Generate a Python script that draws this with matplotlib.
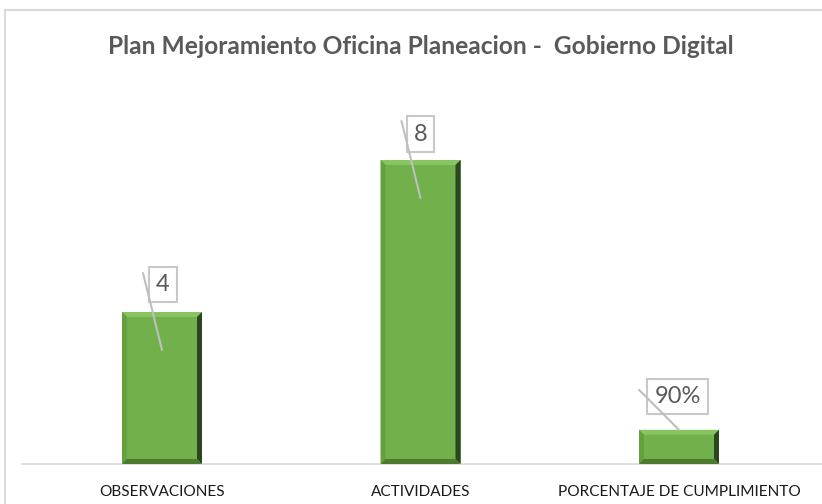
import matplotlib
matplotlib.use('Agg')
import matplotlib.pyplot as plt
from matplotlib.patches import Rectangle, Polygon

categories = ['OBSERVACIONES', 'ACTIVIDADES', 'PORCENTAJE DE CUMPLIMIENTO']
values = [4, 8, 0.9]
labels = ['4', '8', '90%']

plt.rcParams['font.family'] = ['Lato', 'DejaVu Sans']

W, H = 822, 504
fig = plt.figure(figsize=(W / 100, H / 100), dpi=100)
renderer = fig.canvas.get_renderer()


def fit_width(txt, target_px):
    # scale font so the text is as wide as in the reference
    w = txt.get_window_extent(renderer).width
    txt.set_fontsize(txt.get_fontsize() * target_px / w)


# outer chart border, cut off on the right and bottom
fig.add_artist(Rectangle((5 / W, -0.1), 1.1, 1.1 - 10 / H,
                         transform=fig.transFigure, fill=False,
                         ec='#D9D9D9', lw=1.5))

# plot area: baseline at y=464px, 38px per unit, categories 258.5px apart
ax = fig.add_axes([22 / W, 40 / H, 800 / W, 380 / H])
step = 258.5
ax.set_xlim((22 - 162) / step, (822 - 162) / step)
ax.set_ylim(0, 10)
px_per_unit = 38

bar_w = 80 / step
ax.bar(range(len(values)), values, width=bar_w, color='#71B04A', zorder=2)

# bevel edges like the excel chart
bx = 5 / step
by = 5 / px_per_unit
for i, v in enumerate(values):
    x0, x1 = i - bar_w / 2, i + bar_w / 2
    ax.add_patch(Polygon([(x0, v), (x1, v), (x1 - bx, v - by), (x0 + bx, v - by)],
                         color='#88C462', lw=0, zorder=3))
    ax.add_patch(Polygon([(x0, 0), (x0, v), (x0 + bx, v - by), (x0 + bx, by)],
                         color='#64A03E', lw=0, zorder=3))
    ax.add_patch(Polygon([(x1, 0), (x1, v), (x1 - bx, v - by), (x1 - bx, by)],
                         color='#2A4520', lw=0, zorder=3))
    ax.add_patch(Polygon([(x0, 0), (x1, 0), (x1 - bx, by), (x0 + bx, by)],
                         color='#4C7B2F', lw=0, zorder=3))

# data labels in boxes with leader lines drawn over them
drop_px = [38, 38, 0]
box_dy = [65.5, 64, 33]
box_dx = [1, 0, -1.5]
line_start = [(-19, 77), (-19, 77), (-40, 40)]
for i, v in enumerate(values):
    ya = v - drop_px[i] / px_per_unit
    ax.annotate(labels[i], xy=(i, ya), xycoords='data',
                xytext=(box_dx[i] * 0.72, box_dy[i] * 0.72), textcoords='offset points',
                ha='center', va='center', fontsize=17, color='#595959', zorder=5,
                bbox=dict(boxstyle='square,pad=0.3', fc='white', ec='#C8C8C8', lw=1.5))
    ax.annotate('', xy=(i, ya), xycoords='data',
                xytext=(line_start[i][0] * 0.72, line_start[i][1] * 0.72),
                textcoords='offset points', zorder=6,
                arrowprops=dict(arrowstyle='-', color='#BFBFBF', lw=1.5,
                                shrinkA=0, shrinkB=0))

for s in ['top', 'right', 'left']:
    ax.spines[s].set_visible(False)
ax.spines['bottom'].set_color('#D9D9D9')
ax.spines['bottom'].set_linewidth(1.2)
ax.set_yticks([])
ax.set_xticks(range(len(categories)))
ax.set_xticklabels(categories, fontsize=11, color='#1a1a1a')
ax.tick_params(axis='x', length=0, pad=15)
tick_fs = ax.get_xticklabels()[0]
fit_width(tick_fs, 126)
for t in ax.get_xticklabels():
    t.set_fontsize(tick_fs.get_fontsize())

title = fig.text(0.5 * (106 + 735) / W, 1 - 47 / H,
                 'Plan Mejoramiento Oficina Planeacion -  Gobierno Digital',
                 ha='center', va='center', fontsize=14, fontweight='bold', color='#595959')
fit_width(title, 629)

fig.savefig('out.png', dpi=100)
